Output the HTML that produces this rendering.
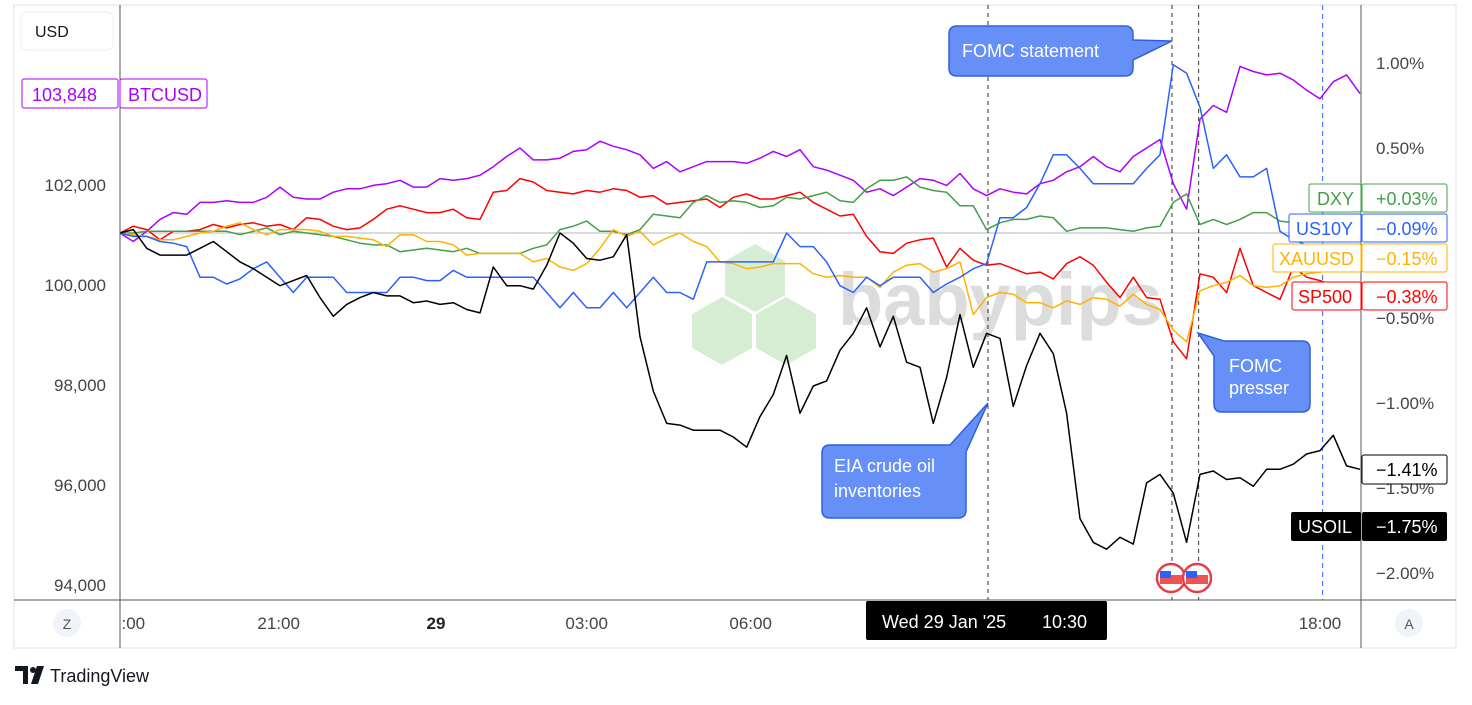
<!DOCTYPE html>
<html><head><meta charset="utf-8">
<style>
body{margin:0;background:#fff;width:1472px;height:700px;overflow:hidden;font-family:"Liberation Sans",sans-serif;}
svg text{font-family:"Liberation Sans","DejaVu Sans",sans-serif;}
</style></head>
<body>
<svg id="chart" width="1472" height="700" viewBox="0 0 1472 700" xmlns="http://www.w3.org/2000/svg">
  <rect x="14" y="5" width="1442" height="643" fill="#fff" stroke="#f0f0f0" stroke-width="2"/>
  <g opacity="0.9">
    <polygon points="755,244 785,261 785,295 755,312 725,295 725,261" fill="#d2ecd0"/>
    <polygon points="722,297 752,314 752,348 722,365 692,348 692,314" fill="#d2ecd0"/>
    <polygon points="786,297 816,314 816,348 786,365 756,348 756,314" fill="#d2ecd0"/>
    <text x="838" y="325" font-size="74" font-weight="bold" fill="#d9d9d9">babypips</text>
  </g>
  <line x1="120" y1="233" x2="1361" y2="233" stroke="#b2b5be" stroke-width="1"/>
  <g id="events"></g>
  <g id="series"></g>
  <g id="axes"></g>
  <line x1="120" y1="5" x2="120" y2="648" stroke="#555" stroke-width="1"/>
  <line x1="1361" y1="5" x2="1361" y2="648" stroke="#555" stroke-width="1"/>
  <line x1="14" y1="600" x2="1456" y2="600" stroke="#555" stroke-width="1"/>
  <g id="labels"></g>
</svg>
<script>
const NS='http://www.w3.org/2000/svg';
// bars (index 0..93), % change
const btcusd=[0,-0.05,0.01,0.08,0.12,0.11,0.18,0.18,0.19,0.18,0.18,0.21,0.27,0.21,0.20,0.20,0.24,0.26,0.26,0.28,0.29,0.31,0.27,0.27,0.32,0.31,0.32,0.34,0.39,0.45,0.50,0.43,0.43,0.44,0.48,0.49,0.54,0.51,0.49,0.46,0.38,0.42,0.36,0.39,0.42,0.42,0.42,0.41,0.44,0.48,0.45,0.49,0.39,0.37,0.34,0.31,0.24,0.26,0.22,0.27,0.32,0.31,0.28,0.35,0.26,0.22,0.26,0.24,0.23,0.29,0.31,0.36,0.39,0.45,0.39,0.36,0.45,0.50,0.55,0.29,0.14,0.67,0.75,0.71,0.98,0.95,0.93,0.94,0.90,0.84,0.79,0.89,0.93,0.82];
const sp500=[0,0.04,0.02,-0.04,0.01,0.01,0.02,0.05,0.03,0.05,0.06,0.04,0.05,0.02,0.09,0.08,0.04,0.02,0.03,0.08,0.14,0.16,0.14,0.12,0.12,0.14,0.09,0.08,0.24,0.25,0.32,0.30,0.25,0.24,0.23,0.25,0.24,0.26,0.25,0.21,0.22,0.17,0.18,0.19,0.20,0.15,0.21,0.23,0.20,0.20,0.22,0.24,0.18,0.14,0.10,0.11,-0.02,-0.11,-0.12,-0.06,-0.04,-0.03,-0.20,-0.09,-0.16,-0.19,-0.18,-0.21,-0.24,-0.23,-0.27,-0.18,-0.14,-0.19,-0.29,-0.38,-0.26,-0.38,-0.39,-0.64,-0.74,-0.24,-0.26,-0.35,-0.09,-0.31,-0.35,-0.39,-0.20,-0.26,-0.28,-0.31,-0.35,-0.38];
const dxy=[0,0,0.01,0.01,0.01,0.01,0.01,0.01,0.01,-0.01,0.01,0.03,-0.01,0.01,0,-0.01,-0.02,-0.04,-0.06,-0.07,-0.07,-0.11,-0.10,-0.09,-0.10,-0.11,-0.09,-0.12,-0.12,-0.12,-0.12,-0.09,-0.07,0.02,0.04,0.07,0.01,0.01,-0.01,0.02,0.11,0.10,0.09,0.18,0.22,0.18,0.19,0.18,0.15,0.16,0.21,0.20,0.22,0.24,0.19,0.18,0.26,0.31,0.31,0.33,0.27,0.25,0.24,0.16,0.16,0.02,0.06,0.08,0.08,0.10,0.09,0.01,0.03,0.03,0.03,0.02,0.01,0.03,0.04,0.18,0.23,0.05,0.08,0.05,0.08,0.12,0.12,0.07,0.06,0.05,0.05,0.04,0.04,0.03];
const xauusd=[0,-0.01,-0.02,-0.04,-0.04,-0.02,0,0.01,0.04,0.06,0.02,-0.01,0.02,0.02,0.02,0.01,-0.02,-0.02,-0.03,-0.04,-0.08,-0.01,-0.01,-0.05,-0.05,-0.07,-0.13,-0.12,-0.12,-0.12,-0.12,-0.17,-0.15,-0.20,-0.22,-0.18,-0.09,0.02,-0.02,0.01,-0.07,-0.03,0,-0.05,-0.08,-0.17,-0.18,-0.21,-0.20,-0.18,-0.18,-0.18,-0.24,-0.26,-0.25,-0.26,-0.26,-0.32,-0.23,-0.19,-0.18,-0.23,-0.21,-0.17,-0.48,-0.38,-0.35,-0.36,-0.41,-0.41,-0.44,-0.40,-0.42,-0.38,-0.39,-0.43,-0.36,-0.42,-0.45,-0.57,-0.64,-0.34,-0.31,-0.29,-0.25,-0.31,-0.32,-0.31,-0.26,-0.24,-0.23,-0.21,-0.18,-0.15];
const us10y=[0,-0.02,-0.02,-0.05,-0.06,-0.08,-0.26,-0.26,-0.30,-0.27,-0.21,-0.17,-0.26,-0.35,-0.26,-0.26,-0.26,-0.35,-0.35,-0.35,-0.35,-0.26,-0.26,-0.28,-0.28,-0.22,-0.26,-0.26,-0.26,-0.26,-0.26,-0.26,-0.35,-0.44,-0.35,-0.44,-0.44,-0.35,-0.44,-0.35,-0.26,-0.35,-0.35,-0.39,-0.17,-0.17,-0.17,-0.17,-0.17,-0.17,0,-0.08,-0.08,-0.17,-0.31,-0.35,-0.26,-0.31,-0.26,-0.26,-0.26,-0.35,-0.30,-0.26,-0.21,-0.18,0.09,0.09,0.15,0.29,0.46,0.46,0.38,0.29,0.29,0.29,0.29,0.38,0.46,0.99,0.94,0.74,0.38,0.46,0.33,0.33,0.38,0.01,-0.04,-0.07,-0.08,-0.09,-0.09,-0.09];
const usoil=[0,0.02,-0.09,-0.13,-0.13,-0.13,-0.09,-0.05,-0.11,-0.17,-0.21,-0.26,-0.31,-0.28,-0.25,-0.38,-0.49,-0.42,-0.38,-0.35,-0.37,-0.37,-0.41,-0.40,-0.42,-0.41,-0.45,-0.47,-0.20,-0.31,-0.31,-0.33,-0.19,0,-0.06,-0.15,-0.16,-0.14,-0.01,-0.61,-0.93,-1.12,-1.13,-1.16,-1.16,-1.16,-1.20,-1.26,-1.08,-0.95,-0.72,-1.06,-0.90,-0.87,-0.69,-0.59,-0.44,-0.67,-0.49,-0.76,-0.79,-1.12,-0.85,-0.48,-0.79,-0.59,-0.62,-1.02,-0.78,-0.59,-0.71,-1.06,-1.68,-1.82,-1.86,-1.79,-1.83,-1.47,-1.42,-1.53,-1.82,-1.42,-1.40,-1.45,-1.44,-1.49,-1.39,-1.39,-1.36,-1.30,-1.28,-1.19,-1.37,-1.39];
const pctTicks=[1.0,0.5,-0.5,-1.0,-1.5,-2.0];
const pctTickLabels=['1.00%','0.50%','\u22120.50%','\u22121.00%','\u22121.50%','\u22122.00%'];
const priceTicks=[102000,100000,98000,96000,94000];
const priceTickLabels=['102,000','100,000','98,000','96,000','94,000'];
// tick positions expressed in bar index units
const timeTicks=[1,11.9,23.7,35,47.3,90];
const timeTickLabels=[':00','21:00','29','03:00','06:00','18:00'];
const eventBars=[65.1,78.9,80.9];
const sessionBar=90.2;
const seriesNames=['BTCUSD','SP500','DXY','XAUUSD','US10Y','USOIL'];
const seriesColors=['#aa00ff','#f00','#43a047','#ffb300','#2962ff','#000'];

const X0=120, BAR=13.333;
function xBar(i){return X0+i*BAR;}
function yPct(v){return 233-v*170;}
function yPrice(p){return 285-(p-100000)/20;}
function mk(tag,attrs,parent){const e=document.createElementNS(NS,tag);for(const k in attrs)e.setAttribute(k,attrs[k]);parent.appendChild(e);return e;}

const ev=document.getElementById('events');
eventBars.forEach(function(b){
  const l=mk('line',{x1:xBar(b),y1:5,x2:xBar(b),y2:600,stroke:'#333','stroke-width':1,'stroke-dasharray':'4,4'},ev);
  
  
});
const bl=mk('line',{x1:xBar(sessionBar),y1:5,x2:xBar(sessionBar),y2:600,stroke:'#2962ff','stroke-width':1,'stroke-dasharray':'5,4'},ev);



const sg=document.getElementById('series');
[btcusd,sp500,dxy,xauusd,us10y,usoil].forEach(function(arr,k){
  const pts=arr.map(function(v,i){return xBar(i).toFixed(1)+','+yPct(v).toFixed(1);}).join(' ');
  const p=mk('polyline',{points:pts,fill:'none',stroke:seriesColors[k],'stroke-width':1.5,'stroke-linejoin':'round'},sg);
  
  
});

const ax=document.getElementById('axes');
pctTicks.forEach(function(v,i){
  const t=mk('text',{x:1376,y:yPct(v)+6,'font-size':17,fill:'#444'},ax);
  t.textContent=pctTickLabels[i];
  
  
});
priceTicks.forEach(function(v,i){
  const t=mk('text',{x:106,y:yPrice(v)+6,'font-size':17,fill:'#444','text-anchor':'end'},ax);
  t.textContent=priceTickLabels[i];
  
  
});
timeTicks.forEach(function(b,i){
  const t=mk('text',{x:xBar(b),y:629,'font-size':17,fill:timeTickLabels[i]==='29'?'#222':'#444','font-weight':timeTickLabels[i]==='29'?'bold':'normal','text-anchor':'middle'},ax);
  t.textContent=timeTickLabels[i];
  
  
});
</script>
<svg style="position:absolute;left:0;top:0" width="1472" height="700">
  <g font-family="Liberation Sans, sans-serif">
    <rect x="21" y="12" width="92" height="38" rx="6" fill="#fff" stroke="#eee"/>
    <text x="35" y="37" font-size="16" fill="#131722">USD</text>
    <rect x="22" y="79" width="96" height="29" rx="2" fill="#fff" stroke="#aa00ff"/>
    <text x="32" y="101" font-size="18" fill="#aa00ff">103,848</text>
    <rect x="120" y="79" width="87" height="29" rx="2" fill="#fff" stroke="#aa00ff"/>
    <text x="128" y="101" font-size="18" fill="#aa00ff">BTCUSD</text>

    <g>
      <path d="M957,26 H1125 Q1133,26 1133,34 V40 L1172,41 L1133,60 V68 Q1133,76 1125,76 H957 Q949,76 949,68 V34 Q949,26 957,26 Z" fill="#6690f7" stroke="#2f5fdc" stroke-width="1.5"/>
      <text x="962" y="57" font-size="18" fill="#fff">FOMC statement</text>
    </g>
    <g>
      <path d="M830,445 H950 L988,403 L966,452 V510 Q966,518 958,518 H830 Q822,518 822,510 V453 Q822,445 830,445 Z" fill="#6690f7" stroke="#2f5fdc" stroke-width="1.5"/>
      <text x="834" y="472" font-size="18" fill="#fff">EIA crude oil</text>
      <text x="834" y="497" font-size="18" fill="#fff">inventories</text>
    </g>
    <g>
      <path d="M1198,333 L1224,341 H1302 Q1310,341 1310,349 V404 Q1310,412 1302,412 H1222 Q1214,412 1214,404 V356 Z" fill="#6690f7" stroke="#2f5fdc" stroke-width="1.5"/>
      <text x="1229" y="372" font-size="18" fill="#fff">FOMC</text>
      <text x="1229" y="394" font-size="18" fill="#fff">presser</text>
    </g>

    <g>
      <circle cx="1171" cy="578" r="14" fill="#fff" stroke="#e53e4a" stroke-width="2.5"/>
      <rect x="1160" y="575" width="22" height="9" fill="#ef5350"/>
      <rect x="1160" y="571" width="11" height="7" fill="#2962ff"/>
    </g>
    <g>
      <circle cx="1197" cy="578" r="14" fill="#fff" stroke="#e53e4a" stroke-width="2.5"/>
      <rect x="1186" y="575" width="22" height="9" fill="#ef5350"/>
      <rect x="1186" y="571" width="11" height="7" fill="#2962ff"/>
    </g>

    <g>
      <rect x="1309" y="184" width="52" height="28" rx="2" fill="#fff" stroke="#43a047"/>
      <text x="1317" y="205" font-size="18" fill="#43a047">DXY</text>
      <rect x="1362" y="184" width="85" height="28" rx="2" fill="#fff" stroke="#43a047"/>
      <text x="1376" y="205" font-size="18" fill="#43a047">+0.03%</text>
    </g>
    <g>
      <rect x="1289" y="214" width="72" height="28" rx="2" fill="#fff" stroke="#2962ff"/>
      <text x="1296" y="235" font-size="18" fill="#2962ff">US10Y</text>
      <rect x="1362" y="214" width="85" height="28" rx="2" fill="#fff" stroke="#2962ff"/>
      <text x="1376" y="235" font-size="18" fill="#2962ff">−0.09%</text>
    </g>
    <g>
      <rect x="1273" y="244" width="88" height="28" rx="2" fill="#fff" stroke="#ffb300"/>
      <text x="1279" y="265" font-size="18" fill="#ffb300">XAUUSD</text>
      <rect x="1362" y="244" width="85" height="28" rx="2" fill="#fff" stroke="#ffb300"/>
      <text x="1376" y="265" font-size="18" fill="#ffb300">−0.15%</text>
    </g>
    <g>
      <rect x="1292" y="282" width="69" height="28" rx="2" fill="#fff" stroke="#f00"/>
      <text x="1298" y="303" font-size="18" fill="#f00">SP500</text>
      <rect x="1362" y="282" width="85" height="28" rx="2" fill="#fff" stroke="#f00"/>
      <text x="1376" y="303" font-size="18" fill="#f00">−0.38%</text>
    </g>
    <g>
      <rect x="1362" y="455" width="85" height="29" rx="2" fill="#fff" stroke="#000"/>
      <text x="1376" y="476" font-size="18" fill="#000">−1.41%</text>
    </g>
    <g>
      <rect x="1291" y="512" width="70" height="29" rx="2" fill="#000"/>
      <text x="1298" y="533" font-size="18" fill="#fff">USOIL</text>
      <rect x="1362" y="512" width="85" height="29" rx="2" fill="#000"/>
      <text x="1376" y="533" font-size="18" fill="#fff">−1.75%</text>
    </g>

    <g>
      <rect x="866" y="601" width="241" height="39" rx="2" fill="#000"/>
      <text x="882" y="628" font-size="18" fill="#fff">Wed 29 Jan '25</text>
      <text x="1042" y="628" font-size="18" fill="#fff">10:30</text>
    </g>
    <g>
      <circle cx="67" cy="623" r="14" fill="#f0f3fa"/>
      <text x="67" y="629" font-size="14" fill="#555" text-anchor="middle">Z</text>
    </g>
    <g>
      <circle cx="1409" cy="623" r="14" fill="#f0f3fa"/>
      <text x="1409" y="629" font-size="14" fill="#555" text-anchor="middle">A</text>
    </g>
    <g>
      <path d="M15,666 H28 V684 H23 V671 H15 Z" fill="#131722"/>
      <circle cx="33" cy="670" r="3" fill="#131722"/>
      <path d="M37,666 H44 L38,684 H31 Z" fill="#131722"/>
      <text x="50" y="682" font-size="18" fill="#131722">TradingView</text>
    </g>
  </g>
</svg>
</body></html>
